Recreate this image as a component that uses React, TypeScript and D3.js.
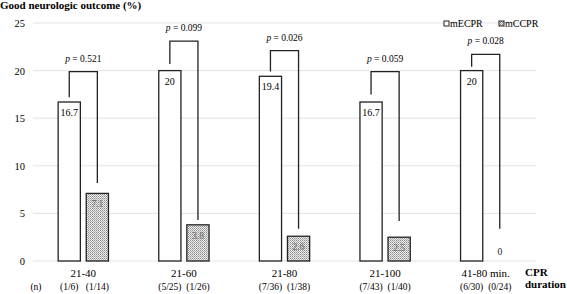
import React from "react";
import * as d3 from "d3";

const categories = ["21-40", "21-60", "21-80", "21-100", "41-80 min."];
const series = ["mECPR", "mCCPR"];
const mECPR = [16.7, 20, 19.4, 16.7, 20];
const mCCPR = [7.1, 3.8, 2.6, 2.5, 0];
const mECPRLabels = ["16.7", "20", "19.4", "16.7", "20"];
const mCCPRLabels = ["7.1", "3.8", "2.6", "2.5", "0"];
const nECPR = ["(1/6)", "(5/25)", "(7/36)", "(7/43)", "(6/30)"];
const nCCPR = ["(1/14)", "(1/26)", "(1/38)", "(1/40)", "(0/24)"];
const pValues = ["0.521", "0.099", "0.026", "0.059", "0.028"];
const bracketTop = [19.9, 23.1, 22.1, 19.9, 21.7];
const bracketLeftEnd = [17.2, 20.7, 19.9, 17.5, 20.4];
const bracketRightEnd = [8.2, 4.3, 3.4, 4.2, 3.4];
const yTicks = [0, 5, 10, 15, 20, 25];

const FONT = '"Liberation Serif", "Times New Roman", serif';

export default function App() {
  const W = 567, H = 294;
  const y = d3.scaleLinear().domain([0, 25]).range([261, 23]);
  const x = d3.scaleBand().domain(categories).range([33, 536]).padding(0);
  const bw = x.bandwidth();
  const xs = d3.scaleBand().domain(series).range([bw * 0.25, bw * 0.75]).paddingInner(0.21);
  const sw = xs.bandwidth();

  return (
    <svg width={W} height={H} style={{ position: "absolute", left: 0, top: 0, background: "#fff", fontFamily: FONT }}>
      <defs>
        <pattern id="dots" width="2" height="2" patternUnits="userSpaceOnUse">
          <rect width="2" height="2" fill="#ececec" />
          <rect width="1" height="1" fill="#8c8c8c" />
          <rect x="1" y="1" width="1" height="1" fill="#b0b0b0" />
        </pattern>
      </defs>
      <rect width={W} height={H} fill="#fff" />
      <text x={0} y={9} fontSize={11} fontWeight="bold">Good neurologic outcome (%)</text>

      {yTicks.map((t) => (
        <g key={t}>
          <line x1={33} x2={536} y1={y(t)} y2={y(t)} stroke="#e3e3e3" strokeWidth={1} />
          <text x={25} y={y(t) + 4} fontSize={10.5} textAnchor="end">{t}</text>
        </g>
      ))}

      {categories.map((c, i) => {
        const x0 = x(c)!;
        const xe = x0 + xs("mECPR")!;
        const xc = x0 + xs("mCCPR")!;
        const ce = xe + sw / 2;
        const cc = xc + sw / 2;
        const mid = x0 + bw / 2;
        return (
          <g key={c}>
            <rect x={xe} y={y(mECPR[i])} width={sw} height={y(0) - y(mECPR[i])} fill="#fff" stroke="#222" strokeWidth={1.3} />
            {mCCPR[i] > 0 && (
              <rect x={xc} y={y(mCCPR[i])} width={sw} height={y(0) - y(mCCPR[i])} fill="url(#dots)" stroke="#222" strokeWidth={1.3} />
            )}
            <text x={ce} y={y(mECPR[i]) + 14} fontSize={10} textAnchor="middle">{mECPRLabels[i]}</text>
            <text x={cc} y={mCCPR[i] > 0 ? y(mCCPR[i]) + 14 : y(0) - 6} fontSize={9.5} textAnchor="middle" fill={mCCPR[i] > 0 ? "#666" : "#222"}>{mCCPRLabels[i]}</text>
            <path
              d={`M${ce},${y(bracketLeftEnd[i])}V${y(bracketTop[i])}H${cc}V${y(bracketRightEnd[i])}`}
              fill="none" stroke="#222" strokeWidth={1.3}
            />
            <text x={mid} y={y(bracketTop[i]) - 10} fontSize={9.5} textAnchor="middle">
              <tspan fontStyle="italic">p</tspan> = {pValues[i]}
            </text>
            <text x={mid} y={277} fontSize={11} textAnchor="middle">{c}</text>
            <text x={ce} y={290} fontSize={9.5} textAnchor="middle">{nECPR[i]}</text>
            <text x={cc} y={290} fontSize={9.5} textAnchor="middle">{nCCPR[i]}</text>
          </g>
        );
      })}

      <text x={36} y={290} fontSize={9.5} textAnchor="middle">(n)</text>
      <text x={525} y={276} fontSize={11} fontWeight="bold">CPR</text>
      <text x={525} y={288} fontSize={11} fontWeight="bold">duration</text>

      <g>
        <rect x={444} y={21} width={5} height={5} fill="#fff" stroke="#222" strokeWidth={1} />
        <text x={450} y={27} fontSize={10}>mECPR</text>
        <rect x={499} y={21} width={5} height={5} fill="url(#dots)" stroke="#222" strokeWidth={1} />
        <text x={505} y={27} fontSize={10}>mCCPR</text>
      </g>
    </svg>
  );
}
